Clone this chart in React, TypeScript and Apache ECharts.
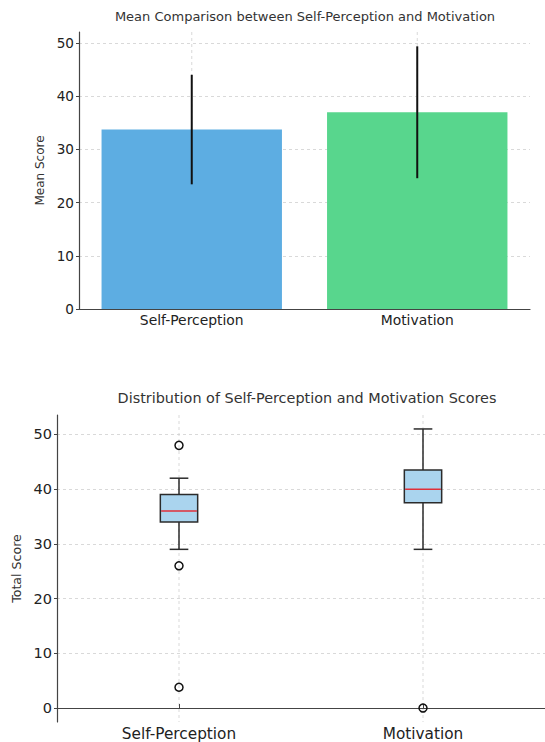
import React, { useEffect, useRef } from 'react';
import * as echarts from 'echarts';

const categories = ['Self-Perception', 'Motivation'];
const meanScores = [33.75, 37.0];
const stdDevs = [10.3, 12.4];
const barColors = ['#5DADE2', '#58D68D'];

// [lowerWhisker, q1, median, q3, upperWhisker]
const boxStats = [
  [29, 34, 36, 39, 42],
  [29, 37.5, 40, 43.5, 51],
];
// [categoryIndex, value]
const outliers = [
  [0, 48],
  [0, 26],
  [0, 3.8],
  [1, 0],
];

const topTitle = 'Mean Comparison between Self-Perception and Motivation';
const bottomTitle = 'Distribution of Self-Perception and Motivation Scores';

const FONT = 'DejaVu Sans';
const GRID_COLOR = '#cfcfcf';
const AXIS_COLOR = '#444';

function vGridRender(params: any, api: any) {
  const cs = params.coordSys;
  const x = api.coord([api.value(0), 0])[0];
  return {
    type: 'line',
    silent: true,
    shape: { x1: x, y1: cs.y, x2: x, y2: cs.y + cs.height },
    style: { stroke: GRID_COLOR, lineWidth: 0.8, lineDash: [3, 3] },
  };
}

export default function App() {
  const ref = useRef<HTMLDivElement>(null);
  useEffect(() => {
    if (!ref.current) return;
    const chart = echarts.init(ref.current, null, { renderer: 'svg' });

    const yAxisCommon = (fontSize: number) => ({
      type: 'value',
      splitNumber: 5,
      axisLine: { show: true, lineStyle: { color: AXIS_COLOR, width: 1.2 } },
      axisTick: { show: true, inside: false, length: 3, lineStyle: { color: AXIS_COLOR, width: 1 } },
      axisLabel: { fontFamily: FONT, fontSize, color: '#222', margin: 5, showMaxLabel: false, showMinLabel: false },
      splitLine: {
        show: true,
        showMaxLine: false,
        showMinLine: false,
        lineStyle: { color: GRID_COLOR, width: 0.8, type: [3, 3] },
      },
    });

    const xAxisCommon = (fontSize: number) => ({
      type: 'category',
      data: categories,
      boundaryGap: true,
      axisLine: { show: true, lineStyle: { color: AXIS_COLOR, width: 1.2 } },
      axisTick: { show: true, inside: true, alignWithLabel: true, length: 4, lineStyle: { color: AXIS_COLOR } },
      axisLabel: { fontFamily: FONT, fontSize, color: '#222', margin: 4 },
      splitLine: { show: false },
    });

    const option: any = {
      animation: false,
      backgroundColor: '#fff',
      grid: [
        { left: 79, top: 32, width: 451, height: 277 },
        { left: 57, top: 415, width: 498, height: 307 },
      ],
      xAxis: [
        { ...xAxisCommon(13.9), gridIndex: 0 },
        { ...xAxisCommon(15.3), gridIndex: 1 },
      ],
      yAxis: [
        {
          ...yAxisCommon(13.6),
          gridIndex: 0,
          min: 0,
          max: 52.1,
          axisLabel: { fontFamily: FONT, fontSize: 13.6, color: '#222', margin: 5, showMaxLabel: false },
          name: 'Mean Score',
          nameLocation: 'middle',
          nameGap: 28,
          nameTextStyle: { fontFamily: FONT, fontSize: 12, color: '#333' },
        },
        {
          ...yAxisCommon(14.5),
          gridIndex: 1,
          min: -2.55,
          max: 53.55,
          name: 'Total Score',
          nameLocation: 'middle',
          nameGap: 31,
          nameTextStyle: { fontFamily: FONT, fontSize: 12.6, color: '#333' },
        },
      ],
      graphic: [
        {
          type: 'text',
          x: 305,
          y: 16,
          style: { text: topTitle, fontFamily: FONT, fontSize: 13, fill: '#333', textAlign: 'center', textVerticalAlign: 'middle' },
        },
        {
          type: 'text',
          x: 307,
          y: 397.5,
          style: { text: bottomTitle, fontFamily: FONT, fontSize: 14.4, fill: '#333', textAlign: 'center', textVerticalAlign: 'middle' },
        },
      ],
      series: [
        {
          type: 'custom',
          xAxisIndex: 0,
          yAxisIndex: 0,
          z: 0,
          silent: true,
          renderItem: vGridRender,
          encode: { x: 0, y: 1 },
          data: categories.map((_, i) => [i, 0]),
        },
        {
          type: 'bar',
          xAxisIndex: 0,
          yAxisIndex: 0,
          z: 2,
          barWidth: '80%',
          data: meanScores.map((v, i) => ({ value: v, itemStyle: { color: barColors[i] } })),
        },
        {
          type: 'custom',
          xAxisIndex: 0,
          yAxisIndex: 0,
          z: 4,
          encode: { x: 0, y: [1, 2] },
          data: meanScores.map((m, i) => [i, m - stdDevs[i], m + stdDevs[i]]),
          renderItem: (params: any, api: any) => {
            const p1 = api.coord([api.value(0), api.value(1)]);
            const p2 = api.coord([api.value(0), api.value(2)]);
            return {
              type: 'line',
              shape: { x1: p1[0], y1: p1[1], x2: p2[0], y2: p2[1] },
              style: { stroke: '#111', lineWidth: 2 },
            };
          },
        },
        {
          type: 'custom',
          xAxisIndex: 1,
          yAxisIndex: 1,
          z: 0,
          silent: true,
          renderItem: vGridRender,
          encode: { x: 0, y: 1 },
          data: categories.map((_, i) => [i, 0]),
        },
        {
          type: 'custom',
          xAxisIndex: 1,
          yAxisIndex: 1,
          z: 3,
          encode: { x: 0, y: [1, 2, 3, 4, 5] },
          data: boxStats.map((s, i) => [i, ...s]),
          renderItem: (params: any, api: any) => {
            const idx = api.value(0);
            const x = api.coord([idx, 0])[0];
            const band = api.size([1, 0])[0];
            const bw = band * 0.153;
            const cw = bw / 2;
            const y = (d: number) => api.coord([idx, api.value(d)])[1];
            const yLo = y(1), yQ1 = y(2), yMed = y(3), yQ3 = y(4), yHi = y(5);
            const edge = { stroke: '#2b2b2b', lineWidth: 1.5 };
            return {
              type: 'group',
              children: [
                { type: 'line', shape: { x1: x, y1: yLo, x2: x, y2: yQ1 }, style: edge },
                { type: 'line', shape: { x1: x, y1: yQ3, x2: x, y2: yHi }, style: edge },
                { type: 'line', shape: { x1: x - cw / 2, y1: yLo, x2: x + cw / 2, y2: yLo }, style: edge },
                { type: 'line', shape: { x1: x - cw / 2, y1: yHi, x2: x + cw / 2, y2: yHi }, style: edge },
                {
                  type: 'rect',
                  shape: { x: x - bw / 2, y: yQ3, width: bw, height: yQ1 - yQ3 },
                  style: { fill: '#aad4ee', stroke: '#2b2b2b', lineWidth: 1.5 },
                },
                {
                  type: 'line',
                  shape: { x1: x - bw / 2 + 0.8, y1: yMed, x2: x + bw / 2 - 0.8, y2: yMed },
                  style: { stroke: '#e0303a', lineWidth: 1.5 },
                },
              ],
            };
          },
        },
        {
          type: 'scatter',
          xAxisIndex: 1,
          yAxisIndex: 1,
          z: 5,
          symbol: 'circle',
          symbolSize: 8,
          itemStyle: { color: 'rgba(0,0,0,0)', borderColor: '#111', borderWidth: 1.5, opacity: 1 },
          data: outliers,
        },
      ],
    };

    chart.setOption(option);
    return () => chart.dispose();
  }, []);

  return (
    <div
      ref={ref}
      style={{ position: 'fixed', left: 0, top: 0, width: 545, height: 742, background: '#fff' }}
    />
  );
}
